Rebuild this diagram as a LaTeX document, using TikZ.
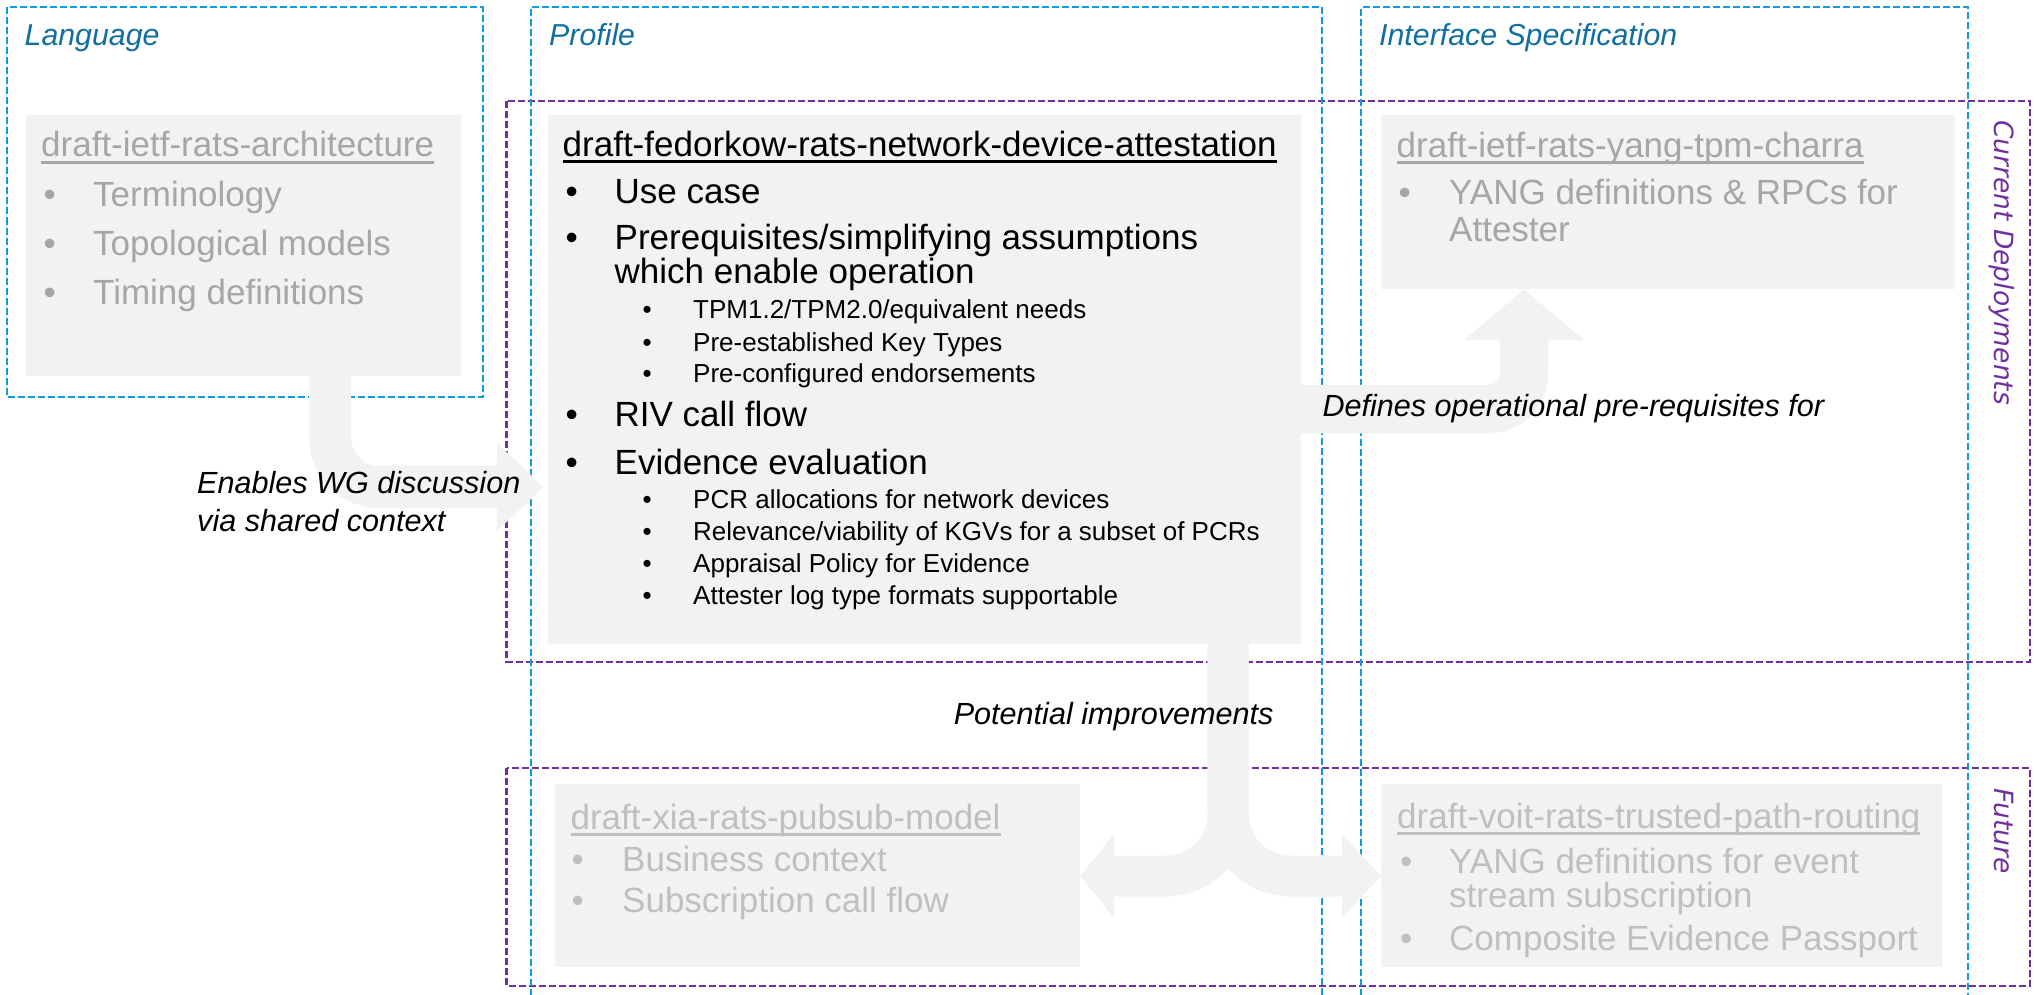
\documentclass[tikz,border=0pt]{standalone}
\usepackage{fontspec}
\setmainfont{Liberation Sans}
\newfontfamily\vertfont{DejaVu Sans}[ItalicFont={DejaVu Sans Oblique}]
\usetikzlibrary{calc}

\definecolor{boxgrey}{RGB}{242,242,242}
\definecolor{ghost}{RGB}{166,166,166}
\definecolor{faint}{RGB}{191,191,191}
\definecolor{lane}{RGB}{16,156,218}
\definecolor{lanetext}{RGB}{16,110,160}
\definecolor{era}{RGB}{112,48,160}

% underlined document title, rule placed like a slide-style underline
\newsavebox\tlbox
\newcommand\titleline[1]{\sbox\tlbox{#1}\rlap{\rule[-6.6pt]{\wd\tlbox}{2.6pt}}\usebox\tlbox}

% one bulleted line: name, bullet x, text x, baseline y, style, text
\newcommand\bulletline[6]{%
  \node[#5] (#1-dot) at (#2,#4) {\textbullet};
  \node[#5] (#1) at (#3,#4) {#6};}

\tikzset{
  gbox/.style={fill=boxgrey, inner sep=0pt, anchor=north west},
  txtline/.style={inner sep=0pt, anchor=base west},
  big/.style={txtline, font=\fontsize{35}{42}\selectfont},
  small/.style={txtline, font=\fontsize{26}{31}\selectfont},
  greybig/.style={big, text=ghost},
  faintbig/.style={big, text=faint},
  lanehead/.style={txtline, text=lanetext, font=\fontsize{30.3}{36}\selectfont\itshape},
  lbl/.style={txtline, font=\fontsize{30.6}{36}\selectfont\itshape},
  eratext/.style={txtline, text=era, rotate=-90, font=\vertfont\fontsize{26.5}{32}\selectfont\itshape},
  laneframe/.style={draw=lane, line width=2pt, dash pattern=on 7pt off 3pt},
  eraframe/.style={draw=era, line width=2.5pt, dash pattern=on 7pt off 3pt},
  flow/.style={draw=boxgrey, line width=#1},
}

\begin{document}
\begin{tikzpicture}[x=1pt,y=-1pt]
\useasboundingbox (0,0) rectangle (2034,995);

% ---------- document boxes ----------
\node[gbox, minimum width=435pt, minimum height=261pt] (lang) at (26,115) {};
\node[gbox, minimum width=753.2pt, minimum height=529pt] (prof) at (547.5,115) {};
\node[gbox, minimum width=574pt, minimum height=174pt] (charra) at (1381,115) {};
\node[gbox, minimum width=525pt, minimum height=183pt] (pubsub) at (555,784) {};
\node[gbox, minimum width=561pt, minimum height=183pt] (trusted) at (1381,784) {};

% Language: architecture draft
\node[greybig] (langTitle) at (41,157) {\titleline{draft-ietf-rats-architecture}};
\bulletline{langA}{43.5}{93}{206.5}{greybig}{Terminology}
\bulletline{langB}{43.5}{93}{255.7}{greybig}{Topological models}
\bulletline{langC}{43.5}{93}{304.2}{greybig}{Timing definitions}

% Profile: network device attestation draft
\node[big] (profTitle) at (562.5,156.4) {\titleline{draft-fedorkow-rats-network-device-attestation}};
\bulletline{pUse}{565.5}{614.5}{203.6}{big}{Use case}
\bulletline{pPre}{565.5}{614.5}{249.4}{big}{Prerequisites/simplifying assumptions}
\node[big] (pPreCont) at (614.5,283.9) {which enable operation};
\bulletline{pTpm}{642.5}{693}{318.3}{small}{TPM1.2/TPM2.0/equivalent needs}
\bulletline{pKey}{642.5}{693}{351}{small}{Pre-established Key Types}
\bulletline{pEnd}{642.5}{693}{382.8}{small}{Pre-configured endorsements}
\bulletline{pRiv}{565.5}{614.5}{426.9}{big}{RIV call flow}
\bulletline{pEvi}{565.5}{614.5}{474}{big}{Evidence evaluation}
\bulletline{pPcr}{642.5}{693}{508.9}{small}{PCR allocations for network devices}
\bulletline{pKgv}{642.5}{693}{540.6}{small}{Relevance/viability of KGVs for a subset of PCRs}
\bulletline{pPol}{642.5}{693}{572.3}{small}{Appraisal Policy for Evidence}
\bulletline{pLog}{642.5}{693}{604.3}{small}{Attester log type formats supportable}

% Interface specification: YANG TPM charra draft
\node[greybig] (charraTitle) at (1396.5,157.3) {\titleline{draft-ietf-rats-yang-tpm-charra}};
\bulletline{cYang}{1398.5}{1449}{204.3}{greybig}{YANG definitions \& RPCs for}
\node[greybig] (cYangCont) at (1449,241.7) {Attester};

% Future: pubsub model draft
\node[faintbig] (pubsubTitle) at (570.4,829) {\titleline{draft-xia-rats-pubsub-model}};
\bulletline{psBiz}{571.5}{622}{871}{faintbig}{Business context}
\bulletline{psSub}{571.5}{622}{912}{faintbig}{Subscription call flow}

% Future: trusted path routing draft
\node[faintbig] (trustedTitle) at (1397,828) {\titleline{draft-voit-rats-trusted-path-routing}};
\bulletline{tpYang}{1400}{1449}{873}{faintbig}{YANG definitions for event}
\node[faintbig] (tpYangCont) at (1449,907) {stream subscription};
\bulletline{tpCep}{1400}{1449}{950}{faintbig}{Composite Evidence Passport}

% ---------- lanes and deployment bands ----------
\draw[eraframe] (506.7,101) rectangle (2030,662);
\draw[eraframe] (506.7,768) rectangle (2030,986);
\draw[laneframe] (7.3,7.5) rectangle (482.5,397);
\draw[laneframe] (530.5,996) -- (530.5,7.5) -- (1322,7.5) -- (1322,996);
\draw[laneframe] (1361,996) -- (1361,7.5) -- (1967.5,7.5) -- (1967.5,996);

\node[lanehead] (hLang) at (24.5,45.5) {Language};
\node[lanehead] (hProf) at (549,45.5) {Profile};
\node[lanehead] (hIface) at (1379,45.5) {Interface Specification};

\node[eratext] (eNow) at (1994,120) {Current Deployments};
\node[eratext] (eNext) at (1994,788) {Future};

% ---------- block arrows ----------
% language -> profile
\coordinate (aBase) at (497,487);
\draw[flow=42pt, rounded corners=49pt] ([xshift=86.5pt,yshift=2pt]lang.south) |- (aBase);
\fill[boxgrey] ($(aBase)+(0,-44)$) -- ($(prof.west |- aBase)+(-4,0)$) -- ($(aBase)+(0,44)$) -- cycle;

% profile -> interface specification
\coordinate (bBase) at (1524,340);
\draw[flow=48.5pt, rounded corners=36pt] ([xshift=-2pt,yshift=-29.5pt]prof.east) -| (bBase);
\fill[boxgrey] ($(bBase)+(-60,0)$) -- (bBase |- charra.south) -- ($(bBase)+(60,0)$) -- cycle;

% profile -> both future drafts
\coordinate (cLeft) at (1114,876);
\coordinate (cRight) at (1342,876);
\draw[flow=41pt, rounded corners=62pt] ([xshift=303.9pt,yshift=2pt]prof.south) |- (cLeft);
\draw[flow=41pt, rounded corners=62pt] ([xshift=303.9pt,yshift=2pt]prof.south) |- (cRight);
\fill[boxgrey] ($(cLeft)+(0,-42)$) -- (pubsub.east |- cLeft) -- ($(cLeft)+(0,42)$) -- cycle;
\fill[boxgrey] ($(cRight)+(0,-42)$) -- (trusted.west |- cRight) -- ($(cRight)+(0,42)$) -- cycle;

% ---------- arrow labels ----------
\node[lbl] (lA1) at (197,493) {Enables WG discussion};
\node[lbl] (lA2) at (197,531.7) {via shared context};
\node[lbl] (lB) at (1322.3,416.7) {Defines operational pre-requisites for};
\node[lbl, anchor=base east] (lC) at (1273.7,724.4) {Potential improvements};
\end{tikzpicture}
\end{document}
